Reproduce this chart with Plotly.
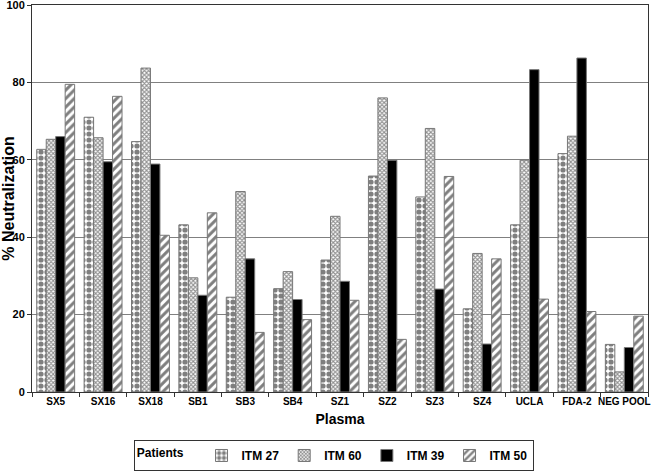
import plotly.graph_objects as go

categories = ["SX5", "SX16", "SX18", "SB1", "SB3", "SB4", "SZ1", "SZ2", "SZ3", "SZ4", "UCLA", "FDA-2", "NEG POOL"]
itm27 = [62.7, 71.0, 64.7, 43.2, 24.5, 26.7, 34.1, 55.8, 50.4, 21.5, 43.2, 61.6, 12.3]
itm60 = [65.3, 65.7, 83.7, 29.5, 51.8, 31.1, 45.4, 76.0, 68.1, 35.8, 59.9, 66.1, 5.2]
itm39 = [66.0, 59.5, 58.9, 25.0, 34.4, 23.9, 28.6, 59.9, 26.6, 12.4, 83.3, 86.3, 11.5]
itm50 = [79.5, 76.4, 40.5, 46.3, 15.4, 18.7, 23.7, 13.6, 55.7, 34.4, 24.0, 20.8, 19.6]
series_names = ["ITM 27", "ITM 60", "ITM 39", "ITM 50"]
y_ticks = [0, 20, 40, 60, 80, 100]

FONT = "Liberation Sans, Arial, sans-serif"

patterns = [
    dict(shape=".", fgcolor="black", bgcolor="white", size=6, solidity=0.6, fillmode="overlay"),
    dict(shape="x", fgcolor="#222222", bgcolor="white", size=3, solidity=0.6, fillmode="overlay"),
    None,
    dict(shape="/", fgcolor="black", bgcolor="white", size=6, solidity=0.5, fillmode="overlay"),
]
colors = ["white", "white", "black", "white"]

fig = go.Figure()
for name, vals, pat, col in zip(series_names, [itm27, itm60, itm39, itm50], patterns, colors):
    marker = dict(color=col, line=dict(color="#777777", width=1))
    if pat is not None:
        marker["pattern"] = pat
    fig.add_trace(go.Bar(x=categories, y=vals, name=name, marker=marker))

fig.update_layout(
    barmode="group",
    bargap=0.2,
    bargroupgap=0,
    width=654,
    height=471,
    margin=dict(l=32, r=6, t=5, b=79, autoexpand=False),
    paper_bgcolor="white",
    plot_bgcolor="white",
    font=dict(family=FONT, size=11, color="black", weight="bold"),
    xaxis=dict(
        showline=True, linecolor="#333333", linewidth=1, mirror=True,
        ticks="outside", tickson="boundaries", ticklen=4, tickcolor="#333333",
        tickangle=0, ticklabeloverflow="allow",
        tickfont=dict(family=FONT, size=10, weight="bold"),
        title=dict(text="Plasma", font=dict(family=FONT, size=14, weight="bold"), standoff=8),
        automargin=False,
    ),
    yaxis=dict(
        range=[0, 100], tickvals=y_ticks,
        showline=True, linecolor="#333333", linewidth=1, mirror=True,
        showgrid=True, gridcolor="#808080", gridwidth=1,
        ticks="outside", ticklen=4, tickcolor="#333333",
        ticklabeloverflow="allow",
        tickfont=dict(family=FONT, size=11, weight="bold"),
        title=dict(text="% Neutralization", font=dict(family=FONT, size=16, weight="bold"), standoff=5),
        automargin=False,
        zeroline=False,
    ),
    legend=dict(
        orientation="h", x=0.49, xanchor="center", y=-0.124, yanchor="top",
        bordercolor="#333333", borderwidth=1, bgcolor="white",
        title=dict(text="Patients   ", font=dict(family=FONT, size=12, weight="bold")),
        font=dict(family=FONT, size=12, weight="bold"),
        traceorder="normal", itemwidth=30,
    ),
)

fig.write_html(
    "out.html",
    config={"displayModeBar": False},
    post_script="document.body.style.margin='0';document.body.style.overflow='hidden';",
)
